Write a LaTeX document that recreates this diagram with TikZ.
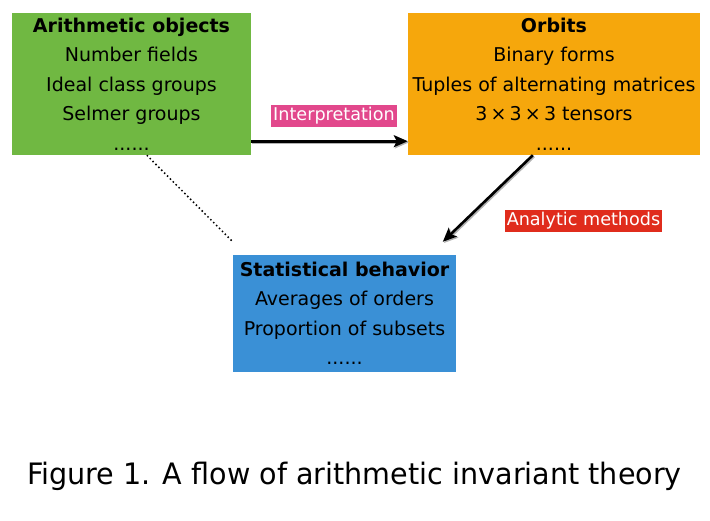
\documentclass[tikz,border=0pt]{standalone}
\usepackage{fontspec}
\setmainfont{DejaVu Sans}
\usepackage{tikz}
\usetikzlibrary{positioning,arrows.meta,calc}
\usepackage{xcolor}

\definecolor{arithgreen}{RGB}{112,184,66}
\definecolor{orbitorange}{RGB}{246,167,12}
\definecolor{statblue}{RGB}{58,144,214}
\definecolor{interpink}{RGB}{226,72,140}
\definecolor{analyticred}{RGB}{224,44,28}

\begin{document}
\begin{tikzpicture}[x=1pt, y=-1pt,
  box/.style={inner sep=0pt, align=center, font=\fontsize{19}{29.5}\selectfont},
  tag/.style={inner xsep=2pt, inner ysep=0pt, minimum height=22pt, text=white, font=\fontsize{17.6}{20}\selectfont},
  flow/.style={line width=2.6pt, -{Stealth[length=14pt,width=12pt,inset=3pt]},
    preaction={draw=black!30, line width=2.6pt, -{Stealth[length=14pt,width=12pt,inset=3pt]},
      transform canvas={shift={(1.2pt,-1.2pt)}}}}]
% Canvas
\useasboundingbox (0,0) rectangle (710,520);

% Three boxes
\node[box, fill=arithgreen, minimum width=239pt, minimum height=142pt] (arith) at (131.5,84)
  {\textbf{Arithmetic objects}\\Number fields\\Ideal class groups\\Selmer groups\\......};
\node[box, fill=orbitorange, minimum width=292pt, minimum height=142pt] (orbit) at (554,84)
  {\textbf{Orbits}\\Binary forms\\Tuples of alternating matrices\\3\,×\,3\,×\,3 tensors\\......};
\node[box, fill=statblue, minimum width=223pt, minimum height=117pt] (stat) at (344.5,313.5)
  {\textbf{Statistical behavior}\\Averages of orders\\Proportion of subsets\\......};

% End points of the connectors
\coordinate (interStart) at ([yshift=14pt]arith.south east);
\coordinate (interEnd) at ([yshift=14pt]orbit.south west);
\coordinate (anaStart) at ([xshift=125pt]orbit.south west);
\coordinate (anaEnd) at ([xshift=210pt,yshift=13pt]stat.north west);
\coordinate (dotStart) at ([xshift=135pt]arith.south west);
\coordinate (dotEnd) at ([xshift=-1pt,yshift=14pt]stat.north west);

% Connectors
\draw[flow] (interStart) -- (interEnd);
\draw[flow] (anaStart) -- (anaEnd);
\draw[line width=1.5pt, dash pattern=on 1.5pt off 2.6pt] (dotStart) -- (dotEnd);

% Labels
\node[tag, fill=interpink] (inter) at (334,116) {Interpretation};
\node[tag, fill=analyticred] (analytic) at (583.5,220.5) {Analytic methods};

% Caption
\node[anchor=base, inner sep=0pt, font=\fontsize{29.5}{32}\selectfont] (caption) at (354.5,484)
  {\scalebox{0.97}[1]{Figure 1. A flow of arithmetic invariant theory}};
\end{tikzpicture}
\end{document}
